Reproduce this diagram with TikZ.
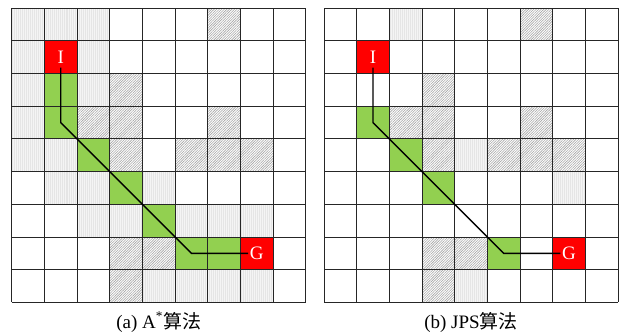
\documentclass[tikz,border=0pt]{standalone}
\usepackage{fontspec}
\setmainfont{Liberation Serif}
\newfontfamily\cjk{Noto Sans CJK SC}
\usetikzlibrary{patterns.meta}
\begin{document}
\begin{tikzpicture}[x=1bp,y=-1bp,
  dotcell/.style={preaction={fill=gray!9},pattern={Lines[angle=90,distance=2pt,line width=0.5pt]},pattern color=gray!20},
  hatchcell/.style={preaction={fill=white},pattern={Lines[angle=45,distance=1.8pt,line width=0.6pt]},pattern color=gray!70},
  greencell/.style={fill={rgb,255:red,146;green,208;blue,80}},
  redcell/.style={fill=red},
  gridline/.style={line width=1bp,draw=black!85},
  marker/.style={text=white,font=\fontsize{19bp}{19bp}\selectfont,inner xsep=1.5bp,inner ysep=4bp},
  route/.style={line width=1.4bp,draw=black},
  caption/.style={font=\fontsize{19bp}{22bp}\selectfont,inner sep=0pt}]
\useasboundingbox (0,0) rectangle (621,335);
% ---------- left grid (A*) ----------
\begin{scope}[shift={(11.7,8.3)},x=32.67bp,y=-32.67bp]
  \foreach \c/\r in {0/0,1/0,2/0,0/1,2/1,0/2,2/2,0/3,0/4,1/4,1/5,2/5,4/5,2/6,3/6,5/6,6/6,7/6,4/8,5/8,6/8,7/8}
    \path[dotcell] (\c,\r) rectangle ++(1,1);
  \foreach \c/\r in {6/0,3/2,2/3,3/3,6/3,3/4,5/4,6/4,7/4,3/7,4/7,3/8}
    \path[hatchcell] (\c,\r) rectangle ++(1,1);
  \foreach \c/\r in {1/2,1/3,2/4,3/5,4/6,5/7,6/7}
    \path[greencell] (\c,\r) rectangle ++(1,1);
  \path[redcell] (1,1) rectangle ++(1,1);
  \path[redcell] (7,7) rectangle ++(1,1);
  \foreach \k in {0,...,9} {
    \draw[gridline] (\k,0) -- (\k,9);
    \draw[gridline] (0,\k) -- (9,\k);
  }
  \node[marker] (Ia) at (1.5,1.5) {I};
  \node[marker] (Ga) at (7.5,7.5) {G};
  \coordinate (a1) at (1.5,3.5);
  \coordinate (a2) at (5.5,7.5);
  \draw[route] (Ia.south) -- (a1) -- (a2) -- (Ga.west);
\end{scope}
% ---------- right grid (JPS) ----------
\begin{scope}[shift={(324,8.3)},x=32.67bp,y=-32.67bp]
  \foreach \c/\r in {2/0,4/4,7/5,4/8}
    \path[dotcell] (\c,\r) rectangle ++(1,1);
  \foreach \c/\r in {6/0,3/2,2/3,3/3,6/3,3/4,5/4,6/4,7/4,3/7,4/7,3/8}
    \path[hatchcell] (\c,\r) rectangle ++(1,1);
  \foreach \c/\r in {1/3,2/4,3/5,5/7}
    \path[greencell] (\c,\r) rectangle ++(1,1);
  \path[redcell] (1,1) rectangle ++(1,1);
  \path[redcell] (7,7) rectangle ++(1,1);
  \foreach \k in {0,...,9} {
    \draw[gridline] (\k,0) -- (\k,9);
    \draw[gridline] (0,\k) -- (9,\k);
  }
  \node[marker] (Ib) at (1.5,1.5) {I};
  \node[marker] (Gb) at (7.5,7.5) {G};
  \coordinate (b1) at (1.5,3.5);
  \coordinate (b2) at (5.5,7.5);
  \draw[route] (Ib.south) -- (b1) -- (b2) -- (Gb.west);
\end{scope}
% ---------- captions ----------
\node[caption] (capa) at (158.7,322) {(a) A\textsuperscript{*}\cjk{算法}};
\node[caption] (capb) at (471,322) {(b) JPS\cjk{算法}};
\end{tikzpicture}
\end{document}
